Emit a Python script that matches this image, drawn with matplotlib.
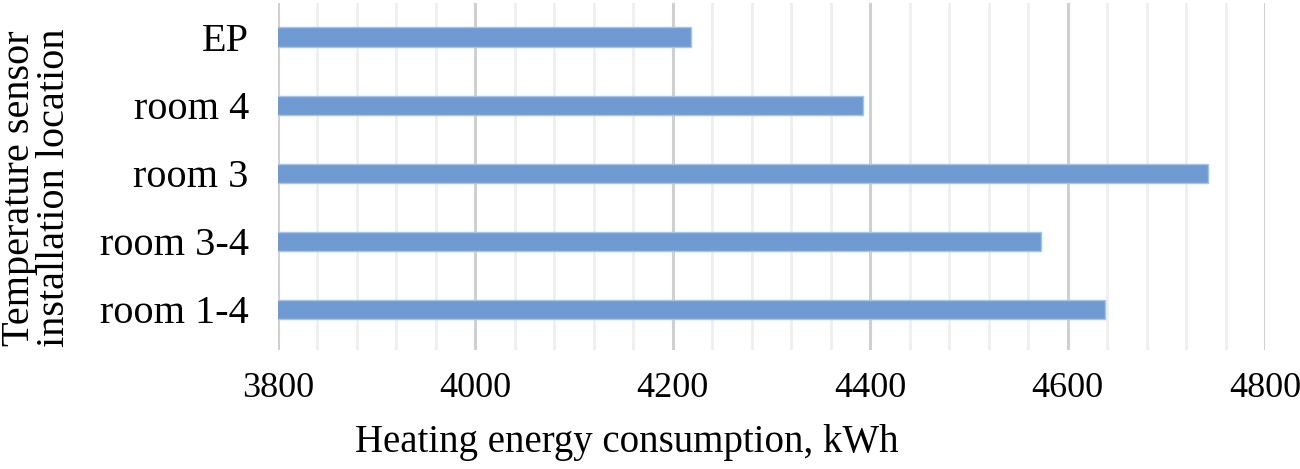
import matplotlib
matplotlib.use("Agg")
import matplotlib.pyplot as plt
from matplotlib.ticker import MultipleLocator

categories = ["room 1-4", "room 3-4", "room 3", "room 4", "EP"]
values = [4638, 4573, 4742, 4393, 4218]
xticks = [3800, 4000, 4200, 4400, 4600, 4800]

plt.rcParams['font.family'] = ['Liberation Serif', 'DejaVu Serif']

fig = plt.figure(figsize=(13, 4.69), dpi=100)
ax = fig.add_axes([278/1300, 1-350/469, (1265-278)/1300, (350-3)/469])

y = list(range(len(categories)))
ax.barh(y, values, height=0.28, left=0, color="#6f9bd2", edgecolor="#a8c3e6", linewidth=1, zorder=3)

ax.set_xlim(3800, 4800)
ax.set_ylim(-0.6, 4.5)
ax.set_xticks(xticks)
ax.set_xticklabels([str(t) for t in xticks])
ax.xaxis.set_minor_locator(MultipleLocator(40))
ax.grid(which="major", axis="x", color="#d0d0d0", linewidth=2.2, zorder=0)
ax.grid(which="minor", axis="x", color="#efefef", linewidth=2.0, zorder=0)
ax.set_yticks(y)
ax.set_yticklabels(categories)
for s in ax.spines.values():
    s.set_visible(False)
ax.tick_params(axis="both", which="both", length=0)
ax.tick_params(axis="y", pad=21, labelsize=29)
ax.tick_params(axis="x", pad=16, labelsize=26)
fig.text(627/1300, 1-442/469, "Heating energy consumption, kWh", ha="center", va="center", fontsize=28)
fig.text(37/1300, 1-188/469, "Temperature sensor\ninstallation location", rotation=90,
         ha="center", va="center", fontsize=29, linespacing=0.95)

fig.savefig("out.png", dpi=100)
